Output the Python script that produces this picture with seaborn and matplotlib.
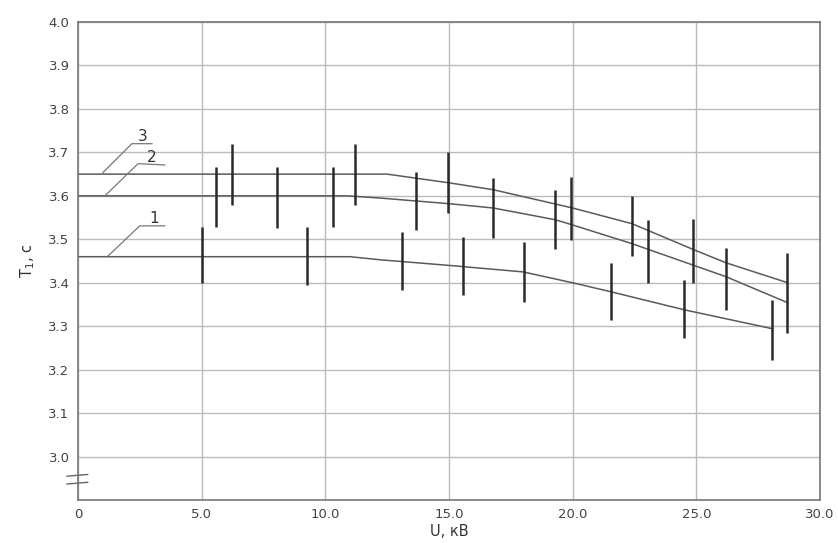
import matplotlib
matplotlib.use("Agg")
import matplotlib.pyplot as plt
import seaborn as sns
import pandas as pd

# ---- data ----
c1_x = [0, 11.0, 12.2, 15.0, 18.0, 20.0, 21.5, 24.5, 28.1]
c1_y = [3.46, 3.46, 3.453, 3.44, 3.425, 3.40, 3.38, 3.338, 3.294]
c2_x = [0, 10.9, 12.2, 15.0, 16.8, 19.3, 20.0, 22.4, 24.9, 26.2, 28.7]
c2_y = [3.60, 3.60, 3.595, 3.582, 3.572, 3.545, 3.533, 3.49, 3.44, 3.414, 3.354]
c3_x = [0, 12.5, 15.0, 16.8, 20.0, 22.4, 24.9, 26.2, 28.7]
c3_y = [3.65, 3.65, 3.63, 3.614, 3.572, 3.536, 3.476, 3.446, 3.40]

# error bars (vertical ranges)
low_bar_x = [5.0, 9.26, 13.1, 15.57, 18.03, 21.55, 24.5, 28.06]
low_bar_lo = [3.40, 3.395, 3.384, 3.372, 3.356, 3.315, 3.274, 3.223]
low_bar_hi = [3.529, 3.529, 3.517, 3.506, 3.494, 3.446, 3.407, 3.361]
up_bar_x = [5.58, 6.23, 8.05, 10.3, 11.2, 13.67, 14.96, 16.78, 19.3, 19.93,
            22.4, 23.05, 24.87, 26.2, 28.67]
up_bar_lo = [3.529, 3.579, 3.526, 3.529, 3.579, 3.522, 3.56, 3.503, 3.478, 3.499,
             3.462, 3.40, 3.40, 3.338, 3.285]
up_bar_hi = [3.667, 3.72, 3.667, 3.667, 3.72, 3.655, 3.70, 3.64, 3.614, 3.644,
             3.60, 3.545, 3.547, 3.48, 3.469]

x_ticks = [0, 5, 10, 15, 20, 25, 30]
x_tick_labels = ["0", "5.0", "10.0", "15.0", "20.0", "25.0", "30.0"]
y_ticks = [3.0, 3.1, 3.2, 3.3, 3.4, 3.5, 3.6, 3.7, 3.8, 3.9, 4.0]
y_tick_labels = ["3.0", "3.1", "3.2", "3.3", "3.4", "3.5", "3.6", "3.7", "3.8", "3.9", "4.0"]
curve_labels = ["1", "2", "3"]

sns.set_theme(style="white")
plt.rcParams['font.family'] = ['DejaVu Sans']

fig = plt.figure(figsize=(8.38, 5.43), dpi=100)
ax = fig.add_axes([0.093, 0.079, 0.8855, 0.8805])

df = pd.concat([
    pd.DataFrame({"x": c1_x, "y": c1_y, "c": "1"}),
    pd.DataFrame({"x": c2_x, "y": c2_y, "c": "2"}),
    pd.DataFrame({"x": c3_x, "y": c3_y, "c": "3"}),
])
sns.lineplot(data=df, x="x", y="y", hue="c", palette=["#5a5a5a"] * 3,
             linewidth=1.1, legend=False, ax=ax, sort=False, estimator=None)

ax.vlines(low_bar_x, low_bar_lo, low_bar_hi, color="#2a2a2a", linewidth=1.8, zorder=3)
ax.vlines(up_bar_x, up_bar_lo, up_bar_hi, color="#2a2a2a", linewidth=1.8, zorder=3)

# leader lines and labels
leaders = [
    ([1.17, 2.5, 3.52], [3.459, 3.531, 3.531], (3.1, 3.547)),
    ([1.09, 2.43, 3.52], [3.60, 3.674, 3.671], (3.0, 3.688)),
    ([1.0, 2.18, 3.0], [3.653, 3.72, 3.72], (2.6, 3.737)),
]
for lab, (lx, ly, tpos) in zip(curve_labels, leaders):
    ax.plot(lx, ly, color="#777777", linewidth=0.9)
    ax.text(tpos[0], tpos[1], lab, fontsize=11, color="#333333", ha="center", va="center")

ax.set_xlim(0, 30)
ax.set_ylim(2.9, 4.0)
ax.set_xticks(x_ticks)
ax.set_xticklabels(x_tick_labels)
ax.set_yticks(y_ticks)
ax.set_yticklabels(y_tick_labels)
ax.grid(True, color="#bbbbbb", linewidth=1.0)
ax.set_axisbelow(True)
for s in ax.spines.values():
    s.set_color("#777777")
    s.set_linewidth(1.2)
ax.tick_params(axis="both", labelsize=9.5, labelcolor="#444444", length=0, pad=6)

# axis break marks
for yb in [2.955, 2.937]:
    ax.plot([-0.45, 0.4], [yb, yb + 0.004], color="#666666", linewidth=1.0, clip_on=False)

ax.set_xlabel("U, кВ", fontsize=10.5, color="#333333", labelpad=2)
ax.set_ylabel("T$_1$, c", fontsize=10.5, color="#333333", labelpad=8)

fig.savefig("out.png", dpi=100, facecolor="white")
